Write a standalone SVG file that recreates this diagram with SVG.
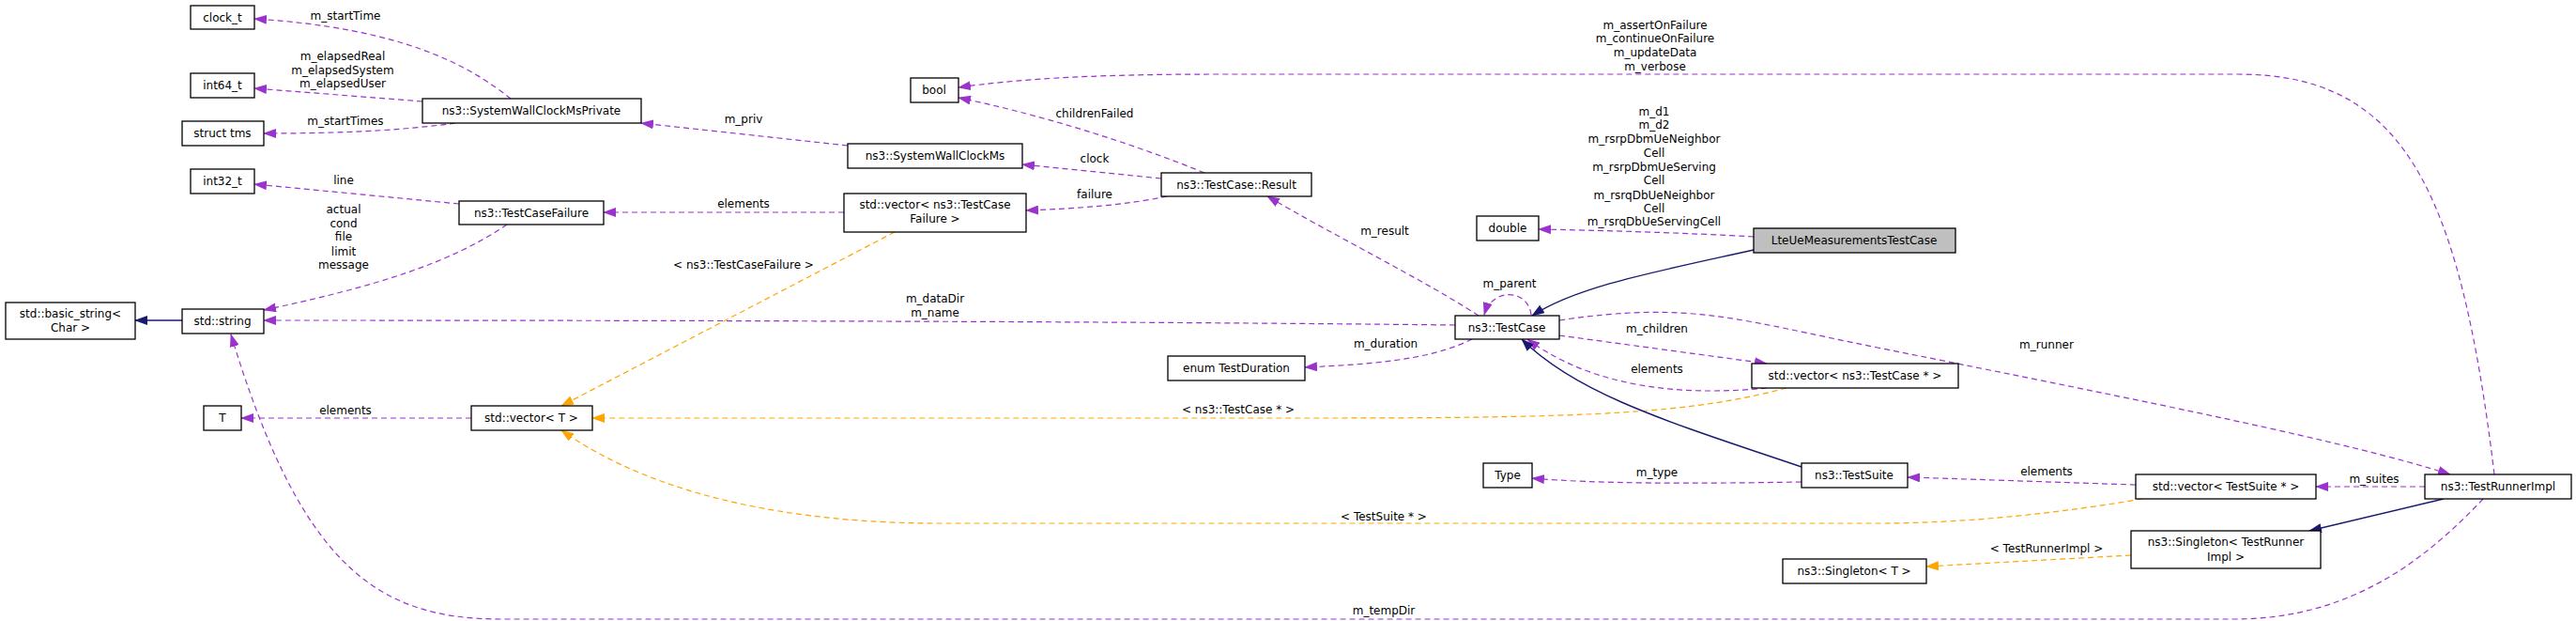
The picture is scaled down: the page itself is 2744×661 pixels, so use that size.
<svg xmlns="http://www.w3.org/2000/svg" width="2744" height="661" viewBox="0 0 2744 661">
<style>
.n rect{fill:#fff;stroke:#000;stroke-width:1.3}
text{font-family:"DejaVu Sans","Liberation Sans",sans-serif;font-size:12px;text-anchor:middle;fill:#000}
.p{fill:none;stroke:#9a32cd;stroke-width:1.2;stroke-dasharray:6,4}
.o{fill:none;stroke:#ffa500;stroke-width:1.2;stroke-dasharray:6,4}
.b{fill:none;stroke:#191970;stroke-width:1.4}
.p{marker-end:url(#mp)}.o{marker-end:url(#mo)}.b{marker-end:url(#mb)}
</style>
<defs>
<marker id="mp" markerWidth="14" markerHeight="10" refX="13" refY="5" orient="auto" markerUnits="userSpaceOnUse"><path d="M0,0L14,5L0,10z" fill="#9a32cd"/></marker>
<marker id="mo" markerWidth="14" markerHeight="10" refX="13" refY="5" orient="auto" markerUnits="userSpaceOnUse"><path d="M0,0L14,5L0,10z" fill="#ffa500"/></marker>
<marker id="mb" markerWidth="14" markerHeight="10" refX="13" refY="5" orient="auto" markerUnits="userSpaceOnUse"><path d="M0,0L14,5L0,10z" fill="#191970"/></marker>
</defs>
<g id="edges">
<path class="p" d="M544,105C500,70 430,30 271,20"/><text x="368" y="21">m_startTime</text>
<path class="p" d="M450,108L271,94"/><text x="365" y="64">m_elapsedReal</text><text x="365" y="79">m_elapsedSystem</text><text x="365" y="93">m_elapsedUser</text>
<path class="p" d="M485,131C420,140 350,142 281,142"/><text x="368" y="133">m_startTimes</text>
<path class="p" d="M903,155L683,131"/><text x="792" y="131">m_priv</text>
<path class="p" d="M489,217L271,196"/><text x="366" y="196">line</text>
<path class="p" d="M540,239C480,280 400,305 281,330"/><text x="366" y="227">actual</text><text x="366" y="242">cond</text><text x="366" y="256">file</text><text x="366" y="272">limit</text><text x="366" y="286">message</text>
<path class="p" d="M899,226L643,226"/><text x="792" y="221">elements</text>
<path class="b" d="M194,341L144,341"/>
<path class="p" d="M502,445L257,445"/><text x="368" y="441">elements</text>
<path class="o" d="M953,247L598,432"/><text x="792" y="286">&lt; ns3::TestCaseFailure &gt;</text>
<path class="p" d="M1283,184C1200,150 1100,120 1021,104"/><text x="1166" y="125">childrenFailed</text>
<path class="p" d="M1237,190L1089,175"/><text x="1166" y="173">clock</text>
<path class="p" d="M1243,209C1200,218 1150,222 1093,224"/><text x="1166" y="211">failure</text>
<path class="p" d="M1575,336C1520,300 1420,250 1350,209"/><text x="1475" y="250">m_result</text>
<path class="p" d="M1868,252C1800,248 1700,245 1639,244"/>
<text x="1762" y="123">m_d1</text><text x="1762" y="137">m_d2</text><text x="1762" y="152">m_rsrpDbmUeNeighbor</text><text x="1762" y="167">Cell</text><text x="1762" y="182">m_rsrpDbmUeServing</text><text x="1762" y="196">Cell</text><text x="1762" y="212">m_rsrqDbUeNeighbor</text><text x="1762" y="226">Cell</text><text x="1762" y="240">m_rsrqDbUeServingCell</text>
<path class="b" d="M1868,266C1760,290 1680,305 1632,336"/>
<path class="p" d="M1631,335C1628,308 1590,305 1581,335"/><text x="1608" y="306">m_parent</text>
<path class="p" d="M1550,346C1200,342 700,341 281,341"/><text x="996" y="322">m_dataDir</text><text x="996" y="337">m_name</text>
<path class="p" d="M1568,361C1520,385 1450,388 1390,391"/><text x="1476" y="370">m_duration</text>
<path class="p" d="M1661,357L1882,387"/><text x="1765" y="354">m_children</text>
<path class="p" d="M1882,413C1760,425 1680,400 1627,361"/><text x="1765" y="397">elements</text>
<path class="o" d="M1903,413C1800,440 1700,445 1400,445L631,445"/><text x="1319" y="440">&lt; ns3::TestCase * &gt;</text>
<path class="b" d="M1919,497C1780,450 1680,420 1621,361"/>
<path class="p" d="M1919,513C1800,515 1700,515 1632,509"/><text x="1765" y="507">m_type</text>
<path class="p" d="M2275,516C2150,512 2100,510 2032,508"/><text x="2180" y="506">elements</text>
<path class="p" d="M2583,518L2467,518"/><text x="2529" y="514">m_suites</text>
<path class="o" d="M2282,531C2200,545 2100,557 2000,557L1000,557C850,557 700,530 598,458"/><text x="1474" y="554">&lt; TestSuite * &gt;</text>
<path class="b" d="M2603,531L2460,565"/>
<path class="o" d="M2270,591L2052,603"/><text x="2180" y="588">&lt; TestRunnerImpl &gt;</text>
<path class="p" d="M2657,505C2620,200 2560,79 2384,79L1300,79C1150,79 1080,85 1021,93"/><text x="1763" y="31">m_assertOnFailure</text><text x="1763" y="45">m_continueOnFailure</text><text x="1763" y="60">m_updateData</text><text x="1763" y="75">m_verbose</text>
<path class="p" d="M1661,341C1800,320 1850,340 2000,370C2300,430 2500,470 2610,505"/><text x="2180" y="371">m_runner</text>
<path class="p" d="M2645,531C2580,600 2500,659 2380,659L533,659C400,659 320,600 246,356"/><text x="1474" y="654">m_tempDir</text>
</g>
<g id="clock_t" class="n"><rect x="203" y="6" width="68" height="25"/><text x="237" y="23">clock_t</text></g>
<g id="int64_t" class="n"><rect x="203" y="78" width="68" height="26"/><text x="237" y="95">int64_t</text></g>
<g id="struct_tms" class="n"><rect x="194" y="129" width="87" height="26"/><text x="237" y="146">struct tms</text></g>
<g id="SystemWallClockMsPrivate" class="n"><rect x="450" y="105" width="233" height="26"/><text x="566" y="122">ns3::SystemWallClockMsPrivate</text></g>
<g id="int32_t" class="n"><rect x="203" y="180" width="68" height="26"/><text x="237" y="197">int32_t</text></g>
<g id="TestCaseFailure" class="n"><rect x="489" y="214" width="154" height="25"/><text x="566" y="231">ns3::TestCaseFailure</text></g>
<g id="basic_string" class="n"><rect x="6" y="322" width="138" height="39"/><text x="75" y="338">std::basic_string&lt;</text><text x="75" y="353">Char &gt;</text></g>
<g id="std_string" class="n"><rect x="194" y="329" width="87" height="26"/><text x="237" y="346">std::string</text></g>
<g id="T" class="n"><rect x="217" y="432" width="40" height="26"/><text x="237" y="449">T</text></g>
<g id="vector_T" class="n"><rect x="502" y="432" width="129" height="26"/><text x="566" y="449">std::vector&lt; T &gt;</text></g>
<g id="bool" class="n"><rect x="970" y="83" width="51" height="26"/><text x="995" y="100">bool</text></g>
<g id="SystemWallClockMs" class="n"><rect x="903" y="153" width="186" height="26"/><text x="996" y="170">ns3::SystemWallClockMs</text></g>
<g id="vector_TCF" class="n"><rect x="899" y="206" width="194" height="41"/><text x="996" y="222">std::vector&lt; ns3::TestCase</text><text x="996" y="237">Failure &gt;</text></g>
<g id="Result" class="n"><rect x="1237" y="184" width="160" height="25"/><text x="1317" y="201">ns3::TestCase::Result</text></g>
<g id="double" class="n"><rect x="1573" y="230" width="66" height="26"/><text x="1606" y="247">double</text></g>
<g id="LteUe" class="n"><rect x="1868" y="243" width="215" height="26" style="fill:#bfbfbf"/><text x="1975" y="260">LteUeMeasurementsTestCase</text></g>
<g id="TestCase" class="n"><rect x="1550" y="336" width="111" height="25"/><text x="1605" y="353">ns3::TestCase</text></g>
<g id="TestDuration" class="n"><rect x="1244" y="379" width="146" height="26"/><text x="1317" y="396">enum TestDuration</text></g>
<g id="vector_TestCase" class="n"><rect x="1866" y="387" width="220" height="26"/><text x="1976" y="404">std::vector&lt; ns3::TestCase * &gt;</text></g>
<g id="Type" class="n"><rect x="1580" y="493" width="52" height="26"/><text x="1606" y="510">Type</text></g>
<g id="TestSuite" class="n"><rect x="1919" y="493" width="113" height="26"/><text x="1975" y="510">ns3::TestSuite</text></g>
<g id="vector_TestSuite" class="n"><rect x="2275" y="505" width="192" height="26"/><text x="2371" y="522">std::vector&lt; TestSuite * &gt;</text></g>
<g id="TestRunnerImpl" class="n"><rect x="2583" y="505" width="156" height="26"/><text x="2661" y="522">ns3::TestRunnerImpl</text></g>
<g id="Singleton_TRI" class="n"><rect x="2270" y="565" width="202" height="40"/><text x="2371" y="581">ns3::Singleton&lt; TestRunner</text><text x="2371" y="597">Impl &gt;</text></g>
<g id="Singleton_T" class="n"><rect x="1899" y="595" width="153" height="26"/><text x="1975" y="612">ns3::Singleton&lt; T &gt;</text></g>
</svg>
